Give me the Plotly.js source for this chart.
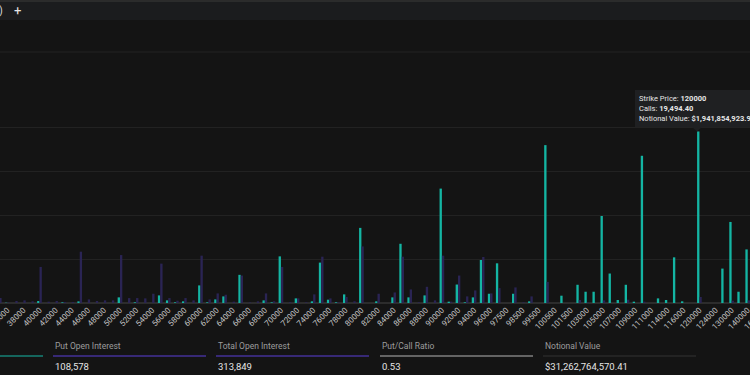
<!DOCTYPE html>
<html>
<head>
<meta charset="utf-8">
<script src="https://cdn.plot.ly/plotly-3.0.1.min.js"></script>
<style>
  html, body { margin: 0; padding: 0; background: #141414; overflow: hidden; width: 750px; height: 375px; }
  #chart { position: absolute; left: 0; top: 0; width: 820px; height: 375px; }
</style>
</head>
<body>
<div id="chart"></div>
<script>
// ---- data ----
const strikes = [35000,36000,37000,38000,39000,40000,41000,42000,43000,44000,45000,46000,47000,48000,49000,
  50000,51000,52000,53000,54000,55000,56000,57000,58000,59000,60000,61000,62000,63000,64000,65000,66000,67000,
  68000,69000,70000,71000,72000,73000,74000,75000,76000,77000,78000,79000,80000,81000,82000,83000,84000,85000,
  86000,87000,88000,89000,90000,91000,92000,93000,94000,95000,96000,97000,97500,98000,98500,99000,99500,100000,
  100500,101000,101500,102000,103000,104000,105000,106000,107000,108000,109000,110000,111000,112000,114000,
  115000,116000,118000,120000,122000,124000,125000,130000,135000,140000,150000,160000];

const callOI = [0,30,0,0,0,225,0,0,75,0,190,0,0,0,0,
  640,0,75,0,0,865,300,75,190,0,2000,75,410,750,0,3200,0,0,
  300,75,5300,0,525,0,190,4590,375,75,980,0,8535,0,190,0,640,6730,
  640,0,865,0,13000,150,2100,75,640,4890,1050,4510,0,1050,0,190,0,17940,
  0,830,0,2070,1280,1280,9890,3350,340,2070,150,16730,0,525,340,
  5190,190,0,19494.4,0,0,3910,9210,1280,6090,0,0];

const putOI = [560,50,225,300,190,4100,150,225,110,110,5830,410,225,300,300,
  5450,560,560,525,1050,4475,560,260,560,300,5380,410,1090,940,150,3120,75,190,
  1090,190,4100,110,525,75,980,5260,525,75,680,190,6430,0,1050,0,1200,5260,
  1540,75,1840,300,5380,150,3120,750,1430,5230,1090,1690,0,1770,75,750,0,2400,
  0,0,0,340,75,0,300,0,0,375,0,150,0,0,0,
  0,0,0,680,0,0,0,260,0,300,0,0];

// every other strike is labelled on the axis
const tickStrikes = strikes.filter((s, i) => i % 2 === 1);
const tickLabels = tickStrikes.map(String);

const statLabels = ['Call Open Interest','Put Open Interest','Total Open Interest','Put/Call Ratio','Notional Value'];
const statValues = ['205,271','108,578','313,849','0.53','$31,262,764,570.41'];
const statColors = ['#17b8a6','#5a3fd8','#5a3fd8','#b4b4b4','#333333'];

const hoverStrike = '120000';
const hoverCalls = '19,494.40';
const hoverNotional = '$1,941,854,923.95';

// ---- layout helpers (figure pixels -> paper coords) ----
const W = 820, H = 375, MT = 83, MB = 72;
const PH = H - MT - MB;
const px = x => x / W;
const py = y => 1 - (y - MT) / PH;

const cats = strikes.map(String);

const traces = [
  { type: 'bar', name: 'Calls', x: cats, y: callOI, marker: { color: '#14b5a3' }, hoverinfo: 'skip' },
  { type: 'bar', name: 'Puts', x: cats, y: putOI, marker: { color: '#2a2454' }, hoverinfo: 'skip' }
];

const shapes = [
  { type: 'rect', xref: 'paper', yref: 'paper', x0: 0, x1: 1, y0: py(1.5), y1: py(20), fillcolor: '#1b1c1e', line: { width: 0 }, layer: 'below' },
  { type: 'line', xref: 'paper', yref: 'paper', x0: 0, x1: 1, y0: py(1), y1: py(1), line: { color: '#333333', width: 1.5 } },
  { type: 'line', xref: 'paper', yref: 'paper', x0: 0, x1: 1, y0: py(52), y1: py(52), line: { color: '#222222', width: 1 } },
  // tooltip pointer
  { type: 'path', xref: 'paper', yref: 'paper',
    path: `M ${px(692)} ${py(127)} L ${px(702)} ${py(127)} L ${px(697)} ${py(131.5)} Z`,
    fillcolor: '#1f2022', line: { width: 0 } }
];

const annotations = [
  { xref: 'paper', yref: 'paper', x: px(5), y: py(11), xanchor: 'right', yanchor: 'middle', showarrow: false,
    text: 'Open Interest By Strike Price (BTC)', font: { family: 'Roboto, sans-serif', size: 10, color: '#dddddd' } },
  { xref: 'paper', yref: 'paper', x: px(17.5), y: py(10.5), xanchor: 'center', yanchor: 'middle', showarrow: false,
    text: '+', font: { family: 'Roboto, sans-serif', size: 13, color: '#e6e6e6' } },
  { xref: 'paper', yref: 'paper', x: px(635), y: py(90), xanchor: 'left', yanchor: 'top', showarrow: false, align: 'left',
    bgcolor: '#1f2022', bordercolor: '#1f2022', borderpad: 3,
    text: `Strike Price: <b>${hoverStrike}</b><br>Calls: <b>${hoverCalls}</b><br>Notional Value: <b>${hoverNotional}</b>`,
    font: { family: 'Roboto, sans-serif', size: 7.5, color: '#e6e6e6' } }
];

const boxStart = [-110, 53, 216, 380, 543];
const boxW = 153;
statLabels.forEach((lab, k) => {
  const x0 = boxStart[k];
  annotations.push({ xref: 'paper', yref: 'paper', x: px(x0), y: py(346), xanchor: 'left', yanchor: 'middle', showarrow: false,
    text: lab, font: { family: 'Roboto, sans-serif', size: 8.5, color: '#9c9c9c' } });
  annotations.push({ xref: 'paper', yref: 'paper', x: px(x0), y: py(366), xanchor: 'left', yanchor: 'middle', showarrow: false,
    text: statValues[k], font: { family: 'Roboto, sans-serif', size: 9.5, color: '#e4e4e4' } });
  shapes.push({ type: 'line', xref: 'paper', yref: 'paper', x0: px(x0), x1: px(x0 + boxW), y0: py(356), y1: py(356),
    line: { color: statColors[k], width: 1.2 } });
});

const layout = {
  width: W, height: H,
  margin: { l: 0, r: 0, t: MT, b: MB, pad: 0 },
  paper_bgcolor: '#141414', plot_bgcolor: '#141414',
  barmode: 'group', bargap: 0.42, bargroupgap: 0,
  showlegend: false,
  xaxis: {
    type: 'category',
    range: [0.093, 0.093 + W / 8.048],
    tickmode: 'array', tickvals: tickStrikes.map(String), ticktext: tickLabels,
    tickangle: -45, ticks: '', showgrid: false, showline: false, zeroline: false,
    tickfont: { family: 'Roboto, sans-serif', size: 8, color: '#c4c4c4' }
  },
  yaxis: {
    range: [0, 25000], dtick: 5000, showticklabels: false, ticks: '',
    gridcolor: '#222222', gridwidth: 1,
    zeroline: true, zerolinecolor: '#2c2c2c', zerolinewidth: 2
  },
  shapes: shapes,
  annotations: annotations
};

Plotly.newPlot('chart', traces, layout, { staticPlot: true, displayModeBar: false });
</script>
</body>
</html>
